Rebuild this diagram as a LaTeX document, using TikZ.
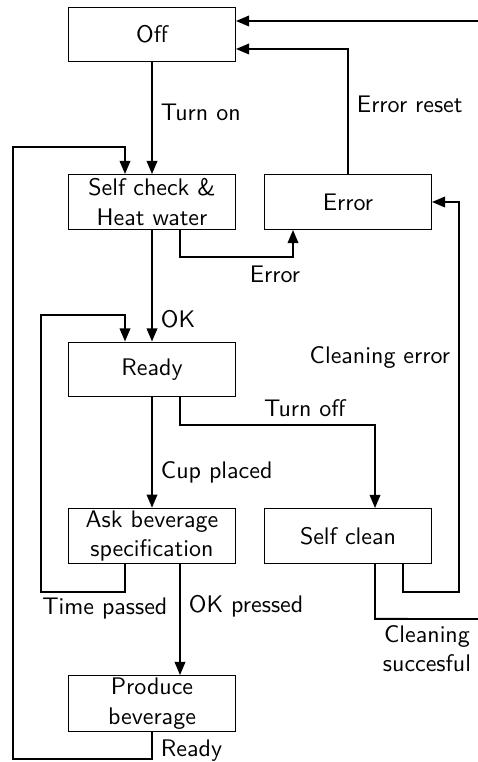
\documentclass[tikz,border=0pt]{standalone}
\usetikzlibrary{arrows.meta,calc}
\begin{document}
\begin{tikzpicture}[x=0.417pt,y=-0.417pt,
  state/.style={draw,line width=0.4pt,minimum width=69.6pt,minimum height=22.9pt,
    inner sep=1pt,align=center,font=\sffamily,execute at begin node=\setlength{\baselineskip}{12.3pt}},
  arr/.style={line width=0.8pt,-{Triangle[length=5.5pt,width=4.4pt]}},
  lbl/.style={font=\sffamily}]
\useasboundingbox[fill=white] (0,0) rectangle (478,762);

% states
\node[state] (off)   at (152,34.5)  {Off};
\node[state] (self)  at (152,202)   {Self check \&\\Heat water};
\node[state] (err)   at (348,202)   {Error};
\node[state] (ready) at (152,369.5) {Ready};
\node[state] (ask)   at (152,536)   {Ask beverage\\specification};
\node[state] (clean) at (348,536)   {Self clean};
\node[state] (prod)  at (152,703.5) {Produce\\beverage};

% straight transitions
\draw[arr] (off) -- node[lbl,right,pos=0.45]{Turn on} (self);
\draw[arr] (self) -- node[lbl,right,pos=0.8]{OK} (ready);
\draw[arr] (ready) -- node[lbl,right,pos=0.68]{Cup placed} (ask);
\draw[arr] ($(ask.south)+(28,0)$) -- node[lbl,right,pos=0.38]{OK pressed} ($(prod.north)+(28,0)$);

% self check fails
\draw[arr] ($(self.south)+(28,0)$) -- ++(0,27) -| node[lbl,below,pos=0.42]{Error} ($(err.south)+(-55,0)$);

% error reset back to off
\draw[arr] (err.north) |- node[lbl,right,pos=0.28]{Error reset} ($(off.east)+(0,14.5)$);

% turn off leads to cleaning
\draw[arr] ($(ready.south)+(28,0)$) -- ++(0,28) -| node[lbl,above,pos=0.32]{Turn off} ($(clean.north)+(27,0)$);

% timeout returns to ready
\draw[arr] ($(ask.south)+(-27,0)$) -- ++(0,28) -| node[lbl,below,pos=0.12,inner sep=2pt]{Time passed} (41,315) -| ($(ready.north)+(-27,0)$);

% beverage done, back to self check
\draw[arr] (prod.south) -- ++(0,27) node[lbl,right,pos=0.7]{Ready} -| (13,147) -| ($(self.north)+(-27,0)$);

% cleaning fails
\draw[arr] ($(clean.south)+(55,0)$) -- ++(0,28) -- ++(56,0) |- node[lbl,left,pos=0.3]{Cleaning error} (err.east);

% cleaning done, machine off
\draw[arr] ($(clean.south)+(27,0)$) -- ++(0,55) -- node[lbl,below,align=center,pos=0.416,inner sep=2.5pt]{Cleaning\\succesful} (500,619) |- ($(off.east)+(0,-13.5)$);
\end{tikzpicture}
\end{document}
